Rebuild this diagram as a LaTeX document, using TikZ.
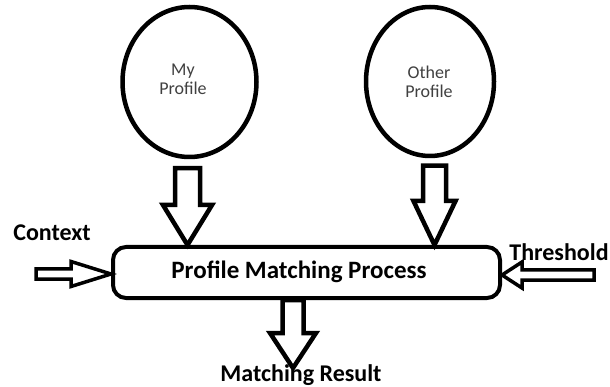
\documentclass[tikz,border=0pt]{standalone}
\usepackage{fontspec}
\setmainfont{Carlito}
\usetikzlibrary{calc,shapes.geometric}
\tikzset{
 prof/.style={draw, ellipse, line width=4.5pt, inner sep=0pt, minimum width=134pt, minimum height=150pt},
 proftxt/.style={align=center, text=black!75, inner sep=0pt, font=\fontsize{18}{19}\selectfont},
 procbox/.style={draw, line width=4pt, rounded corners=13pt, minimum width=387pt, minimum height=51pt, inner sep=0pt},
 bigtxt/.style={font=\bfseries\fontsize{24}{28}\selectfont, inner sep=0pt},
 blk/.style={draw, line width=4.5pt, line join=miter, fill=white},
 smallblk/.style={blk, line width=3.5pt},
}
\newcommand\fatarrow[6]{%
 \coordinate (fab) at ($(#2)!#5!(#1)$);
 \draw[#6] ($(#1)!#3!90:(#2)$) -- ($(fab)!#3!90:(#2)$) -- ($(fab)!#4!90:(#2)$) -- (#2)
   -- ($(fab)!#4!-90:(#2)$) -- ($(fab)!#3!-90:(#2)$) -- ($(#1)!#3!-90:(#2)$) -- cycle;}
\begin{document}
\begin{tikzpicture}[x=1pt,y=-1pt]
\useasboundingbox (0,0) rectangle (610,387);
% profiles
\node[prof] (my) at (189.5,82) {};
\node[proftxt] (mytxt) at (183,79) {My\\Profile};
\node[prof, minimum width=128pt, minimum height=149pt] (other) at (430,81.5) {};
\node[proftxt] (othertxt) at (429,82) {Other\\Profile};
% process
\node[procbox] (proc) at (306.5,272.5) {};
\node[bigtxt, font=\bfseries\fontsize{25}{28}\selectfont] (proctxt) at (299,272) {Profile Matching Process};
% labels
\node[bigtxt] (ctx) at (52,233) {Context};
\node[bigtxt] (thr) at (559,252) {Threshold};
\node[bigtxt] (res) at (301,375) {Matching Result};
% connector coordinates
\coordinate (a1s) at ([xshift=-2pt,yshift=-9pt]my.south);
\coordinate (a1t) at (a1s |- proc.north);
\coordinate (a2s) at ([xshift=4.5pt,yshift=-7.5pt]other.south);
\coordinate (a2t) at (a2s |- proc.north);
\coordinate (a3s) at ([xshift=-13.5pt]proc.south);
\coordinate (a3t) at ([yshift=-68pt]a3s);
\coordinate (cs) at (36,274);
\coordinate (ct) at (cs -| proc.west);
\coordinate (ts) at (594,275);
\coordinate (tt) at (ts -| proc.east);
% block arrows
\fatarrow{a1s}{a1t}{12.5pt}{24.5pt}{40pt}{blk}
\fatarrow{a2s}{a2t}{11.5pt}{21pt}{44pt}{blk}
\fatarrow{a3s}{a3t}{10.5pt}{23pt}{35pt}{blk}
\fatarrow{cs}{ct}{5pt}{12.5pt}{40pt}{smallblk}
\fatarrow{ts}{tt}{5pt}{13pt}{20pt}{smallblk}
\end{tikzpicture}
\end{document}
